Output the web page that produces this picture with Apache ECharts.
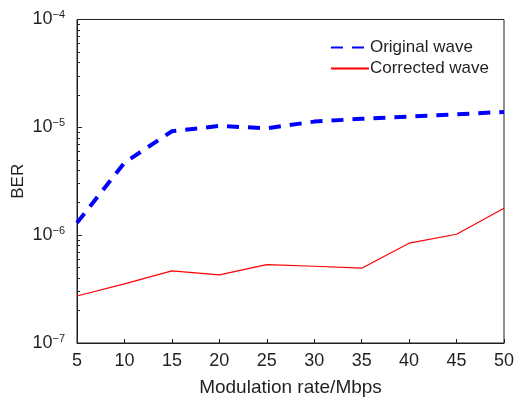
<!DOCTYPE html>
<html><head><meta charset="utf-8">
<script src="https://cdn.jsdelivr.net/npm/echarts@6/dist/echarts.min.js"></script>
<style>html,body{margin:0;padding:0;background:#fff}#c{width:514px;height:399px}</style>
</head><body><div id="c"></div>
<script>
const rates = [5, 10, 15, 20, 25, 30, 35, 40, 45, 50];
const originalWave = [1.30e-6, 4.7e-6, 9.2e-6, 1.03e-5, 9.8e-6, 1.13e-5, 1.2e-5, 1.26e-5, 1.32e-5, 1.39e-5];
const correctedWave = [2.73e-7, 3.53e-7, 4.67e-7, 4.28e-7, 5.33e-7, 5.15e-7, 4.94e-7, 8.43e-7, 1.02e-6, 1.78e-6];
const minorTickValues = [];
[1e-7, 1e-6, 1e-5].forEach(d => { for (let k = 2; k <= 9; k++) minorTickValues.push(k * d); });

const ink = '#231f20';
const font = 'Liberation Sans';
const chart = echarts.init(document.getElementById('c'), null, {renderer: 'canvas'});
chart.setOption({
  animation: false,
  grid: {left: 77, right: 10, top: 19.5, bottom: 56, outerBoundsMode: 'none', containLabel: false, show: true, borderColor: ink, borderWidth: 1, backgroundColor: 'transparent'},
  legend: {
    right: 20, top: 34, orient: 'vertical', itemWidth: 38, itemHeight: 12, itemGap: 4,
    itemStyle: {opacity: 0},
    textStyle: {fontFamily: font, fontSize: 17, color: ink, padding: [0, 0, 0, -4]},
    data: ['Original wave', 'Corrected wave']
  },
  xAxis: {
    type: 'value', min: 5, max: 50, interval: 5,
    name: 'Modulation rate/Mbps', nameLocation: 'middle', nameGap: 35,
    nameTextStyle: {fontFamily: font, fontSize: 19, color: ink},
    axisLine: {lineStyle: {color: ink, width: 1}},
    axisTick: {inside: true, length: 4, lineStyle: {color: ink}},
    axisLabel: {fontFamily: font, fontSize: 18, color: ink, margin: 9},
    splitLine: {show: false}
  },
  yAxis: [{
    type: 'log', logBase: 10, min: 1e-7, max: 1e-4,
    name: 'BER', nameLocation: 'middle', nameGap: 50, nameMoveOverlap: false,
    nameTextStyle: {fontFamily: font, fontSize: 17, color: ink},
    axisLine: {show: true, lineStyle: {color: ink, width: 1}},
    axisTick: {inside: true, length: 5, lineStyle: {color: ink}},
    axisLabel: {
      margin: 12,
      formatter: v => '{b|10}{s|\u2212' + Math.abs(Math.round(Math.log10(v))) + '}',
      rich: {
        b: {fontFamily: font, fontSize: 18, color: ink},
        s: {fontFamily: font, fontSize: 11, color: ink, verticalAlign: 'top', padding: [0, 0, 9, 0]}
      }
    },
    splitLine: {show: false}
  }, {
    type: 'value', min: -7, max: -4, position: 'left',
    axisLine: {show: true, lineStyle: {color: ink, width: 1}},
    axisTick: {show: true, inside: true, length: 3, customValues: minorTickValues.map(v => Math.log10(v)), lineStyle: {color: ink}},
    axisLabel: {show: false},
    splitLine: {show: false}
  }],
  series: [{
    name: 'Original wave', type: 'line', data: rates.map((r, i) => [r, originalWave[i]]),
    showSymbol: false, symbol: 'none',
    lineStyle: {color: '#0000ff', width: 4, type: [12, 9]},
    itemStyle: {color: '#0000ff'}
  }, {
    name: 'Corrected wave', type: 'line', data: rates.map((r, i) => [r, correctedWave[i]]),
    showSymbol: false, symbol: 'none',
    lineStyle: {color: '#ff0000', width: 1.2},
    itemStyle: {color: '#ff0000'}
  }]
});
</script></body></html>
